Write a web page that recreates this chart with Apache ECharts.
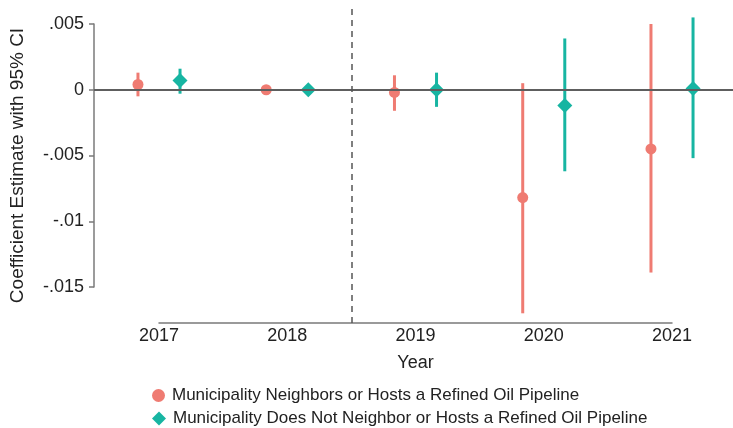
<!DOCTYPE html>
<html><head><meta charset="utf-8">
<script src="https://cdn.jsdelivr.net/npm/echarts@6/dist/echarts.min.js"></script>
<style>html,body{margin:0;padding:0;background:#fff}#c{width:733px;height:428px}</style>
</head><body><div id="c"></div>
<script>
// ---- data ----
const years = [2017, 2018, 2019, 2020, 2021];
const seriesNames = [
  'Municipality Neighbors or Hosts a Refined Oil Pipeline',
  'Municipality Does Not Neighbor or Hosts a Refined Oil Pipeline'
];
const hostEst = [0.0004, 0.0000, -0.0002, -0.0082, -0.0045];
const hostLo  = [-0.0005, null, -0.0016, -0.0170, -0.0139];
const hostHi  = [0.0013, null, 0.0011, 0.0005, 0.0050];
const notEst  = [0.0007, 0.0000, 0.0000, -0.0012, 0.0001];
const notLo   = [-0.0003, null, -0.0013, -0.0062, -0.0052];
const notHi   = [0.0016, null, 0.0013, 0.0039, 0.0055];
const yTickValues = [0.005, 0, -0.005, -0.01, -0.015];
const yTickLabels = ['.005', '0', '-.005', '-.01', '-.015'];
const refYear = 2018.5;

// ---- styling ----
const RED = '#ef7b72', TEAL = '#17b5a2';
const FONT = 'Liberation Sans, Arial, Helvetica, sans-serif';
const TXT = '#222';
const dodge = 0.164;

function pts(est, off) { return years.map((y, i) => [y + off, est[i]]); }
function bars(lo, hi, off) {
  return years.map((y, i) => [y + off, lo[i], hi[i]]).filter(d => d[1] !== null);
}
function barRender(color) {
  return function (params, api) {
    const a = api.coord([api.value(0), api.value(1)]);
    const b = api.coord([api.value(0), api.value(2)]);
    return { type: 'line', shape: { x1: a[0], y1: a[1], x2: b[0], y2: b[1] },
      style: { stroke: color, lineWidth: 3 } };
  };
}
function yLabel(v) {
  for (let i = 0; i < yTickValues.length; i++) {
    if (Math.abs(v - yTickValues[i]) < 1e-9) return yTickLabels[i];
  }
  return '';
}
function legendFor(i, icon, color, top, size) {
  return {
    orient: 'vertical', left: 152, top: top, padding: 0,
    itemWidth: size, itemHeight: size,
    textStyle: { color: TXT, fontSize: 17, fontFamily: FONT, padding: [0, 0, 0, 2] },
    data: [{ name: seriesNames[i], icon: icon, itemStyle: { color: color } }]
  };
}

const chart = echarts.init(document.getElementById('c'));
chart.setOption({
  animation: false,
  backgroundColor: '#fff',
  textStyle: { fontFamily: FONT },
  grid: [
    { left: 94, right: 0, top: 8, bottom: 105 },
    { left: 159, right: 61, top: 24, bottom: 141 }
  ],
  xAxis: [
    { gridIndex: 0, type: 'value', min: 2016.4932, max: 2021.4756, show: false },
    { gridIndex: 1, type: 'value', min: 2017, max: 2021, interval: 1, offset: 36,
      axisLine: { show: true, onZero: false, lineStyle: { color: '#7a7a7a', width: 1.5 } },
      axisTick: { show: false }, splitLine: { show: false },
      axisLabel: { color: TXT, fontSize: 18, margin: 4, fontFamily: FONT, formatter: v => String(v) },
      name: 'Year', nameLocation: 'middle', nameGap: 31,
      nameTextStyle: { color: TXT, fontSize: 18, fontFamily: FONT } }
  ],
  yAxis: [
    { gridIndex: 0, type: 'value', min: -0.017738, max: 0.006217,
      axisLine: { show: false }, axisTick: { show: false }, axisLabel: { show: false },
      splitLine: { show: false },
      name: 'Coefficient Estimate with 95% CI', nameLocation: 'middle', nameGap: 67,
      nameRotate: 90, nameTextStyle: { color: TXT, fontSize: 19, fontFamily: FONT } },
    { gridIndex: 1, type: 'value', min: -0.015, max: 0.005, interval: 0.005, offset: 65,
      axisLine: { show: true, onZero: false, lineStyle: { color: '#7a7a7a', width: 1.5 } },
      axisTick: { show: true, length: 5, lineStyle: { color: '#7a7a7a', width: 1.5 } },
      splitLine: { show: false },
      axisLabel: { color: TXT, fontSize: 18, margin: 10, fontFamily: FONT, formatter: yLabel } }
  ],
  legend: [
    legendFor(0, 'circle', RED, 387, 13),
    legendFor(1, 'diamond', TEAL, 410, 14)
  ],
  series: [
    { type: 'line', xAxisIndex: 0, yAxisIndex: 0, data: [], z: 1, silent: true,
      markLine: { symbol: 'none', silent: true, label: { show: false },
        data: [
          { yAxis: 0, lineStyle: { color: '#5e5e5e', width: 2, type: 'solid' } },
          { xAxis: refYear, lineStyle: { color: '#555', width: 1.5, type: [6, 5] } }
        ] } },
    { type: 'custom', xAxisIndex: 0, yAxisIndex: 0, z: 3, silent: true,
      renderItem: barRender(RED), data: bars(hostLo, hostHi, -dodge) },
    { type: 'custom', xAxisIndex: 0, yAxisIndex: 0, z: 3, silent: true,
      renderItem: barRender(TEAL), data: bars(notLo, notHi, dodge) },
    { name: seriesNames[0], type: 'scatter', xAxisIndex: 0, yAxisIndex: 0, z: 4,
      symbol: 'circle', symbolSize: 11, itemStyle: { color: RED, opacity: 1 },
      data: pts(hostEst, -dodge) },
    { name: seriesNames[1], type: 'scatter', xAxisIndex: 0, yAxisIndex: 0, z: 4,
      symbol: 'diamond', symbolSize: 15, itemStyle: { color: TEAL, opacity: 1 },
      data: pts(notEst, dodge) }
  ]
});
</script></body></html>
